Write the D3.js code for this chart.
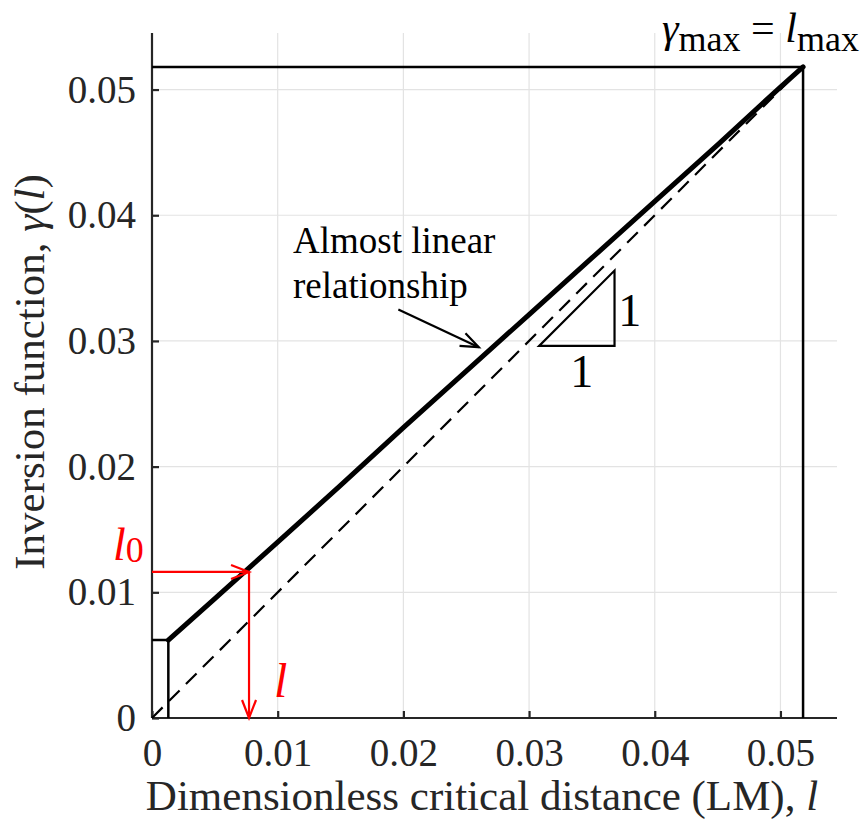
<!DOCTYPE html>
<html>
<head>
<meta charset="utf-8">
<script src="https://cdnjs.cloudflare.com/ajax/libs/d3/7.8.5/d3.min.js"></script>
<style>
  body { margin: 0; background: #fff; }
  text { font-family: "Liberation Serif", "Times New Roman", serif; }
</style>
</head>
<body>
<svg id="chart" width="862" height="826"></svg>
<script>
// inversion function gamma(l)
var lVals     = [0.0013, 0.005, 0.010, 0.015, 0.020, 0.025, 0.030, 0.035, 0.040, 0.045, 0.050, 0.0518];
var gammaVals = [0.0062, 0.0095, 0.0140, 0.0185, 0.0231, 0.0276, 0.0321, 0.0366, 0.0411, 0.0456, 0.0502, 0.0518];
var lMax = 0.0518;
var l0 = [0.00772, 0.01162];       // point picked on the curve
var xTicks = [0, 0.01, 0.02, 0.03, 0.04, 0.05];
var yTicks = [0, 0.01, 0.02, 0.03, 0.04, 0.05];
var triangle = [[0.0308, 0.0296], [0.0368, 0.0296], [0.0368, 0.0356]];
var noteArrow = [[0.0196, 0.0325], [0.0260, 0.0295]];

var svg = d3.select('#chart');
var x = d3.scaleLinear().domain([0, 0.0545]).range([152, 837]);
var y = d3.scaleLinear().domain([0, 0.0545]).range([718, 33]);

var axisColor = "#262626";
var serif = '"Liberation Serif", "Times New Roman", serif';

// grid
svg.append('g').selectAll('line').data(xTicks.slice(1)).enter().append('line')
    .attr('x1', d => x(d)).attr('x2', d => x(d))
    .attr('y1', y(0)).attr('y2', y(0.0545))
    .attr('stroke', '#e3e3e3').attr('stroke-width', 1.2);
svg.append('g').selectAll('line').data(yTicks.slice(1)).enter().append('line')
    .attr('y1', d => y(d)).attr('y2', d => y(d))
    .attr('x1', x(0)).attr('x2', x(0.0545))
    .attr('stroke', '#e3e3e3').attr('stroke-width', 1.2);

// axes
var xAxis = d3.axisBottom(x).tickValues(xTicks).tickSizeInner(-7).tickSizeOuter(0)
    .tickPadding(20).tickFormat(d => d === 0 ? "0" : d3.format(".2f")(d));
var yAxis = d3.axisLeft(y).tickValues(yTicks).tickSizeInner(-7).tickSizeOuter(0)
    .tickPadding(16).tickFormat(d => d === 0 ? "0" : d3.format(".2f")(d));

var gx = svg.append('g').attr('transform', 'translate(0,' + y(0) + ')').call(xAxis);
var gy = svg.append('g').attr('transform', 'translate(' + x(0) + ',0)').call(yAxis);
[gx, gy].forEach(function (g) {
    g.attr('font-family', serif);
    g.select('.domain').attr('stroke', axisColor).attr('stroke-width', 2.2);
    g.selectAll('.tick line').attr('stroke', axisColor).attr('stroke-width', 2.2);
    g.selectAll('.tick text').attr('fill', axisColor).style('font-size', '39px');
});
gy.select('.domain').attr('d', 'M0,' + y(0) + 'V' + y(0.0545));
gx.select('.domain').attr('d', 'M0,0H' + (x(0.0545) - x(0)));
gx.select('.domain').attr('transform', 'translate(' + x(0) + ',0)');

// axis labels
var xl = svg.append('text').attr('x', 482).attr('y', 810).attr('text-anchor', 'middle')
    .attr('fill', axisColor).style('font-size', '43px');
xl.append('tspan').text('Dimensionless critical distance (LM), ');
xl.append('tspan').attr('font-style', 'italic').text('l');

var yl = svg.append('text').attr('transform', 'translate(44,372)rotate(-90)')
    .attr('text-anchor', 'middle').attr('fill', axisColor).style('font-size', '43px');
yl.append('tspan').text('Inversion function, ');
yl.append('tspan').attr('font-style', 'italic').text('γ');
yl.append('tspan').text('(');
yl.append('tspan').attr('font-style', 'italic').text('l');
yl.append('tspan').text(')');

// gamma_max = l_max bounding lines
var line = d3.line().x(d => x(d[0])).y(d => y(d[1]));
svg.append('path').attr('d', line([[0, lMax], [lMax, lMax], [lMax, 0]]))
    .attr('fill', 'none').attr('stroke', '#000').attr('stroke-width', 2.5);
// lower box at curve start
svg.append('path').attr('d', line([[0, gammaVals[0]], [lVals[0], gammaVals[0]], [lVals[0], 0]]))
    .attr('fill', 'none').attr('stroke', '#000').attr('stroke-width', 2.5);

// 1:1 reference line
svg.append('path').attr('d', line([[0, 0], [lMax, lMax]]))
    .attr('fill', 'none').attr('stroke', '#000').attr('stroke-width', 2.2)
    .attr('stroke-dasharray', '15,9');

// the curve
svg.append('path').attr('d', line(lVals.map((d, i) => [d, gammaVals[i]])))
    .attr('fill', 'none').attr('stroke', '#000').attr('stroke-width', 5)
    .attr('stroke-linejoin', 'round').attr('stroke-linecap', 'round');

// slope triangle
svg.append('path').attr('d', line(triangle) + 'Z')
    .attr('fill', 'none').attr('stroke', '#000').attr('stroke-width', 2.2);
svg.append('text').attr('x', x(0.0371)).attr('y', y(0.0312)).attr('fill', '#000')
    .style('font-size', '46px').text('1');
svg.append('text').attr('x', x(0.0342)).attr('y', y(0.0263)).attr('text-anchor', 'middle')
    .attr('fill', '#000').style('font-size', '46px').text('1');

// arrow helper, open head
function arrow(p0, p1, color, w) {
    var a = [x(p0[0]), y(p0[1])], b = [x(p1[0]), y(p1[1])];
    var dx = b[0] - a[0], dy = b[1] - a[1], len = Math.sqrt(dx * dx + dy * dy);
    var ux = dx / len, uy = dy / len, hl = 18, hw = 7;
    svg.append('line').attr('x1', a[0]).attr('y1', a[1]).attr('x2', b[0]).attr('y2', b[1])
        .attr('stroke', color).attr('stroke-width', w);
    svg.append('path')
        .attr('d', 'M' + (b[0] - ux * hl - uy * hw) + ',' + (b[1] - uy * hl + ux * hw) +
                   'L' + b[0] + ',' + b[1] +
                   'L' + (b[0] - ux * hl + uy * hw) + ',' + (b[1] - uy * hl - ux * hw))
        .attr('fill', 'none').attr('stroke', color).attr('stroke-width', w);
}

arrow(noteArrow[0], noteArrow[1], '#000', 2.2);
arrow([0, l0[1]], l0, '#ff0000', 2.2);
arrow(l0, [l0[0], 0], '#ff0000', 2.2);

// annotation text
svg.append('text').attr('x', 293).attr('y', 253).style('font-size', '37px').text('Almost linear');
svg.append('text').attr('x', 293).attr('y', 298).style('font-size', '37px').text('relationship');

// red labels
var t0 = svg.append('text').attr('x', 113).attr('y', 560).attr('fill', '#ff0000').style('font-size', '46px');
t0.append('tspan').attr('font-style', 'italic').text('l');
t0.append('tspan').attr('dy', 2).style('font-size', '36px').text('0');
svg.append('text').attr('x', 274).attr('y', 697).attr('fill', '#ff0000').attr('font-style', 'italic')
    .style('font-size', '48px').text('l');

// gamma_max = l_max
var tm = svg.append('text').attr('x', 662).attr('y', 42).attr('fill', '#000').style('font-size', '42px');
tm.append('tspan').attr('font-style', 'italic').text('γ');
tm.append('tspan').attr('dy', 9).style('font-size', '36px').text('max');
tm.append('tspan').attr('dy', -9).text(' = ');
tm.append('tspan').attr('font-style', 'italic').text('l');
tm.append('tspan').attr('dy', 9).style('font-size', '36px').text('max');
</script>
</body>
</html>
